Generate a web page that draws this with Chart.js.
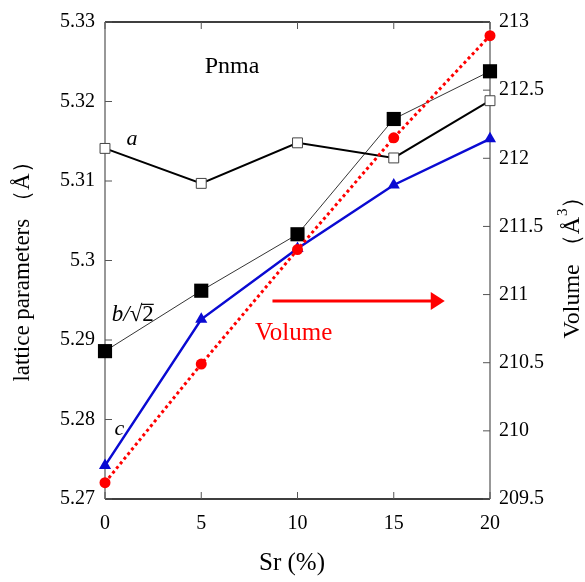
<!DOCTYPE html>
<html>

<head>
    <title>Lattice parameters vs Sr</title>
    <script src="https://cdn.jsdelivr.net/npm/chart.js"></script>
    <style>
        body { margin: 0; background: white; }
    </style>
</head>

<body>
    <canvas id="latticeChart" width="585" height="582"></canvas>
</body>

</html>

<script>
    // Sr content (%)
    const srValues = [0, 5, 10, 15, 20];
    // lattice parameters (Å), left axis
    const aValues = [5.3141, 5.3097, 5.3148, 5.3129, 5.3201];
    const bValues = [5.2886, 5.2962, 5.3033, 5.3178, 5.3238];
    const cValues = [5.2742, 5.2926, 5.3015, 5.3095, 5.3153];
    // cell volume (Å^3), right axis
    const volumeValues = [209.62, 210.49, 211.33, 212.15, 212.90];

    const xTickLabels = ['0', '5', '10', '15', '20'];
    const leftTickLabels = ['5.27', '5.28', '5.29', '5.3', '5.31', '5.32', '5.33'];
    const rightTickLabels = ['209.5', '210', '210.5', '211', '211.5', '212', '212.5', '213'];

    const serif = "'Liberation Serif', 'DejaVu Serif', serif";

    function points(ys) {
        return srValues.map((x, i) => ({ x: x, y: ys[i] }));
    }

    // frame, inward ticks, titles and notes
    const decorPlugin = {
        id: 'decor',
        beforeDatasetsDraw(chart) {
            const ctx = chart.ctx;
            const area = chart.chartArea;
            const xs = chart.scales.x, yl = chart.scales.y, yr = chart.scales.y1;
            ctx.save();

            // frame
            ctx.lineWidth = 1.5;
            ctx.strokeStyle = '#000';
            ctx.beginPath();
            ctx.moveTo(area.left, area.top); ctx.lineTo(area.right, area.top);
            ctx.moveTo(area.left, area.bottom); ctx.lineTo(area.right, area.bottom);
            ctx.stroke();
            ctx.strokeStyle = '#777';
            ctx.beginPath();
            ctx.moveTo(area.left, area.top); ctx.lineTo(area.left, area.bottom);
            ctx.moveTo(area.right, area.top); ctx.lineTo(area.right, area.bottom);
            ctx.stroke();

            // ticks pointing inward
            const tl = 7;
            ctx.lineWidth = 1;
            ctx.strokeStyle = '#555';
            ctx.beginPath();
            xs.ticks.forEach(t => {
                const px = xs.getPixelForValue(t.value);
                ctx.moveTo(px, area.top); ctx.lineTo(px, area.top + tl);
                ctx.moveTo(px, area.bottom); ctx.lineTo(px, area.bottom - tl);
            });
            yl.ticks.forEach(t => {
                const py = yl.getPixelForValue(t.value);
                ctx.moveTo(area.left, py); ctx.lineTo(area.left + tl, py);
            });
            yr.ticks.forEach(t => {
                const py = yr.getPixelForValue(t.value);
                ctx.moveTo(area.right, py); ctx.lineTo(area.right - tl, py);
            });
            ctx.stroke();
            ctx.restore();
        },
        afterDatasetsDraw(chart) {
            const ctx = chart.ctx;
            const xs = chart.scales.x, yl = chart.scales.y;
            ctx.save();

            // axis titles
            ctx.fillStyle = '#000';
            ctx.textAlign = 'center';
            ctx.textBaseline = 'middle';
            ctx.font = '25px ' + serif;
            ctx.fillText('Sr (%)', 292, 563);

            ctx.save();
            ctx.translate(23, 266);
            ctx.rotate(-Math.PI / 2);
            ctx.font = '23px ' + serif;
            ctx.fillText('lattice parameters （Å）', 0, 0);
            ctx.restore();

            ctx.save();
            ctx.translate(573, 262);
            ctx.rotate(-Math.PI / 2);
            ctx.font = '24px ' + serif;
            ctx.textAlign = 'left';
            const t1 = 'Volume （Å';
            const w1 = ctx.measureText(t1).width;
            ctx.font = '15px ' + serif;
            const w2 = ctx.measureText('3').width;
            ctx.font = '24px ' + serif;
            const w3 = ctx.measureText('）').width;
            const start = -(w1 + w2 + w3) / 2;
            ctx.fillText(t1, start, 0);
            ctx.font = '15px ' + serif;
            ctx.fillText('3', start + w1 + 1, -10);
            ctx.font = '24px ' + serif;
            ctx.fillText('）', start + w1 + w2, 0);
            ctx.restore();

            // notes inside the plot
            ctx.font = '24px ' + serif;
            ctx.fillText('Pnma', xs.getPixelForValue(6.6), yl.getPixelForValue(5.3244));
            ctx.font = 'italic 22px ' + serif;
            ctx.fillText('a', xs.getPixelForValue(1.4), yl.getPixelForValue(5.3152));
            ctx.fillText('c', xs.getPixelForValue(0.75), yl.getPixelForValue(5.2788));
            // b/√2
            ctx.textAlign = 'left';
            ctx.font = 'italic 23px ' + serif;
            const bx = xs.getPixelForValue(0.35), by = yl.getPixelForValue(5.2931);
            ctx.fillText('b/', bx, by);
            const bw = ctx.measureText('b/').width;
            ctx.font = '23px ' + serif;
            ctx.fillText('√2', bx + bw, by);
            const rw = ctx.measureText('√').width;
            const dw = ctx.measureText('2').width;
            ctx.lineWidth = 1.2;
            ctx.strokeStyle = '#000';
            ctx.beginPath();
            ctx.moveTo(bx + bw + rw - 1, by - 11);
            ctx.lineTo(bx + bw + rw + dw, by - 11);
            ctx.stroke();

            // Volume arrow
            ctx.fillStyle = '#ff0000';
            ctx.strokeStyle = '#ff0000';
            ctx.textAlign = 'center';
            ctx.font = '25px ' + serif;
            ctx.fillText('Volume', xs.getPixelForValue(9.8), yl.getPixelForValue(5.2908));
            const ay = yl.getPixelForValue(5.2949);
            const ax0 = xs.getPixelForValue(8.7), ax1 = xs.getPixelForValue(17.65);
            ctx.lineWidth = 3;
            ctx.beginPath();
            ctx.moveTo(ax0, ay); ctx.lineTo(ax1 - 12, ay);
            ctx.stroke();
            ctx.beginPath();
            ctx.moveTo(ax1, ay);
            ctx.lineTo(ax1 - 14, ay - 9);
            ctx.lineTo(ax1 - 14, ay + 9);
            ctx.closePath();
            ctx.fill();

            ctx.restore();
        }
    };

    const ctx = document.getElementById('latticeChart').getContext('2d');
    const chart = new Chart(ctx, {
        type: 'line',
        data: {
            datasets: [
                {
                    label: 'Volume',
                    data: points(volumeValues),
                    yAxisID: 'y1',
                    borderColor: '#ff0000',
                    backgroundColor: '#ff0000',
                    borderWidth: 3,
                    borderDash: [3, 3],
                    pointStyle: 'circle',
                    pointRadius: 5.5,
                    pointBorderWidth: 0,
                    clip: false
                },
                {
                    label: 'c',
                    data: points(cValues),
                    yAxisID: 'y',
                    borderColor: '#0a0ad2',
                    backgroundColor: '#0a0ad2',
                    borderWidth: 2.5,
                    pointStyle: 'triangle',
                    pointRadius: 7,
                    pointBorderWidth: 0,
                    clip: false
                },
                {
                    label: 'b/√2',
                    data: points(bValues),
                    yAxisID: 'y',
                    borderColor: '#000',
                    backgroundColor: '#000',
                    borderWidth: 0.8,
                    pointStyle: 'rect',
                    pointRadius: 10,
                    pointBorderWidth: 0,
                    clip: false
                },
                {
                    label: 'a',
                    data: points(aValues),
                    yAxisID: 'y',
                    borderColor: '#000',
                    backgroundColor: '#fff',
                    borderWidth: 2,
                    pointStyle: 'rect',
                    pointRadius: 7,
                    pointBorderColor: '#444',
                    pointBorderWidth: 1,
                    clip: false
                }
            ]
        },
        options: {
            responsive: false,
            animation: false,
            layout: { padding: { top: 19, left: 0, right: 0, bottom: 0 } },
            plugins: {
                legend: { display: false },
                tooltip: { enabled: false }
            },
            scales: {
                x: {
                    type: 'linear',
                    min: 0,
                    max: 20,
                    grid: { display: false, drawTicks: false },
                    border: { display: false },
                    ticks: {
                        stepSize: 5,
                        padding: 13,
                        color: '#000',
                        font: { family: serif, size: 20 },
                        callback: (v, i) => xTickLabels[i]
                    },
                    afterFit: s => { s.height = 83; }
                },
                y: {
                    position: 'left',
                    min: 5.27,
                    max: 5.33,
                    grid: { display: false, drawTicks: false },
                    border: { display: false },
                    ticks: {
                        stepSize: 0.01,
                        padding: 10,
                        color: '#000',
                        font: { family: serif, size: 20 },
                        callback: (v, i) => leftTickLabels[i]
                    },
                    afterFit: s => { s.width = 105; }
                },
                y1: {
                    position: 'right',
                    min: 209.5,
                    max: 213,
                    grid: { display: false, drawTicks: false },
                    border: { display: false },
                    ticks: {
                        stepSize: 0.5,
                        padding: 9,
                        color: '#000',
                        font: { family: serif, size: 20 },
                        callback: (v, i) => rightTickLabels[i]
                    },
                    afterFit: s => { s.width = 95; }
                }
            }
        },
        plugins: [decorPlugin]
    });
</script>
